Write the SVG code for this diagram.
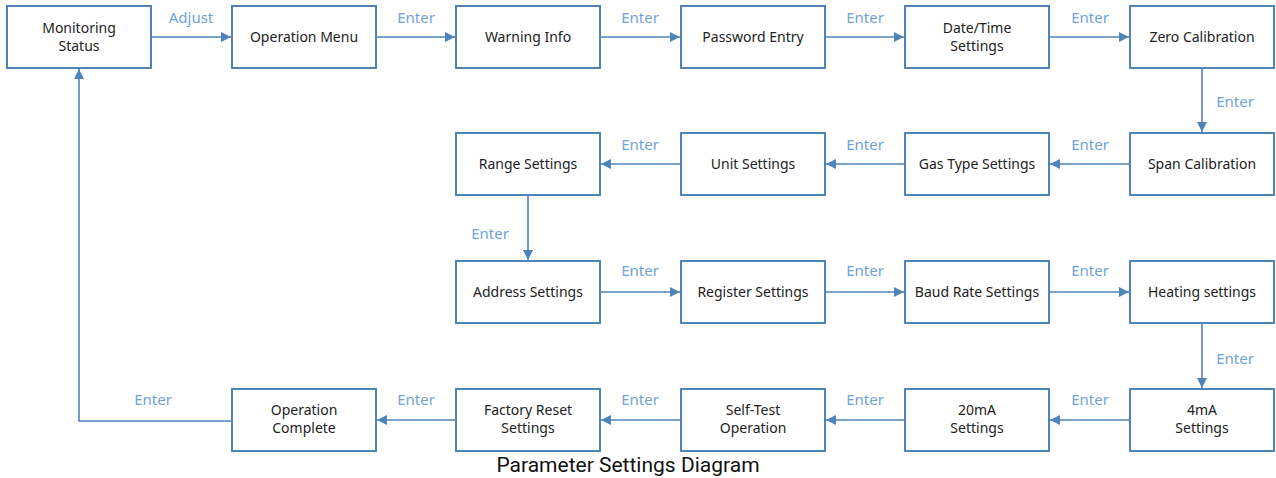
<svg xmlns="http://www.w3.org/2000/svg" width="1276" height="478" viewBox="0 0 1276 478">
<style>
.box{fill:#fff;stroke:#4f84b9;stroke-width:2}
.t{font-family:"Noto Sans","Open Sans",sans-serif;font-size:14px;fill:#222;text-anchor:middle}
.l{font-family:"Noto Sans","Open Sans",sans-serif;font-size:15px;fill:#6fa3d6;text-anchor:middle}
.c{fill:none;stroke:#4f84b9;stroke-width:1.6}
.title{font-family:Roboto,"Noto Sans",sans-serif;font-size:21px;fill:#111;text-anchor:middle}
</style>
<defs>
<marker id="a" viewBox="0 0 10 10" refX="10" refY="5" markerWidth="10" markerHeight="10" markerUnits="userSpaceOnUse" orient="auto"><path d="M0,0L10,5L0,10z" fill="#4f84b9"/></marker>
</defs>
<rect width="1276" height="478" fill="#fff"/>
<g id="connectors">
<path class="c" marker-end="url(#a)" d="M151,37H231"/>
<path class="c" marker-end="url(#a)" d="M376,37H455"/>
<path class="c" marker-end="url(#a)" d="M600,37H680"/>
<path class="c" marker-end="url(#a)" d="M825,37H904"/>
<path class="c" marker-end="url(#a)" d="M1049,37H1129"/>
<path class="c" marker-end="url(#a)" d="M1202,68V132"/>
<path class="c" marker-end="url(#a)" d="M1130,164H1050"/>
<path class="c" marker-end="url(#a)" d="M905,164H826"/>
<path class="c" marker-end="url(#a)" d="M681,164H601"/>
<path class="c" marker-end="url(#a)" d="M528,195V260"/>
<path class="c" marker-end="url(#a)" d="M600,292H680"/>
<path class="c" marker-end="url(#a)" d="M825,292H904"/>
<path class="c" marker-end="url(#a)" d="M1049,292H1129"/>
<path class="c" marker-end="url(#a)" d="M1202,323V388"/>
<path class="c" marker-end="url(#a)" d="M1130,420H1050"/>
<path class="c" marker-end="url(#a)" d="M905,420H826"/>
<path class="c" marker-end="url(#a)" d="M681,420H601"/>
<path class="c" marker-end="url(#a)" d="M456,420H377"/>
<path class="c" marker-end="url(#a)" d="M232,421H79V69"/>
<text class="l" x="191" y="23">Adjust</text>
<text class="l" x="416" y="23">Enter</text>
<text class="l" x="640" y="23">Enter</text>
<text class="l" x="865" y="23">Enter</text>
<text class="l" x="1090" y="23">Enter</text>
<text class="l" x="1235" y="107">Enter</text>
<text class="l" x="1090" y="150">Enter</text>
<text class="l" x="865" y="150">Enter</text>
<text class="l" x="640" y="150">Enter</text>
<text class="l" x="490" y="239">Enter</text>
<text class="l" x="640" y="276">Enter</text>
<text class="l" x="865" y="276">Enter</text>
<text class="l" x="1090" y="276">Enter</text>
<text class="l" x="1235" y="364">Enter</text>
<text class="l" x="1090" y="405">Enter</text>
<text class="l" x="865" y="405">Enter</text>
<text class="l" x="640" y="405">Enter</text>
<text class="l" x="416" y="405">Enter</text>
<text class="l" x="153" y="405">Enter</text>
</g>
<g id="n1"><rect class="box" x="7" y="6" width="144" height="62"/><text class="t" x="79" y="33">Monitoring</text><text class="t" x="79" y="51">Status</text></g>
<g id="n2"><rect class="box" x="232" y="6" width="144" height="62"/><text class="t" x="304" y="42">Operation Menu</text></g>
<g id="n3"><rect class="box" x="456" y="6" width="144" height="62"/><text class="t" x="528" y="42">Warning Info</text></g>
<g id="n4"><rect class="box" x="681" y="6" width="144" height="62"/><text class="t" x="753" y="42">Password Entry</text></g>
<g id="n5"><rect class="box" x="905" y="6" width="144" height="62"/><text class="t" x="977" y="33">Date/Time</text><text class="t" x="977" y="51">Settings</text></g>
<g id="n6"><rect class="box" x="1130" y="6" width="144" height="62"/><text class="t" x="1202" y="42">Zero Calibration</text></g>
<g id="n7"><rect class="box" x="1130" y="133" width="144" height="62"/><text class="t" x="1202" y="169">Span Calibration</text></g>
<g id="n8"><rect class="box" x="905" y="133" width="144" height="62"/><text class="t" x="977" y="169">Gas Type Settings</text></g>
<g id="n9"><rect class="box" x="681" y="133" width="144" height="62"/><text class="t" x="753" y="169">Unit Settings</text></g>
<g id="n10"><rect class="box" x="456" y="133" width="144" height="62"/><text class="t" x="528" y="169">Range Settings</text></g>
<g id="n11"><rect class="box" x="456" y="261" width="144" height="62"/><text class="t" x="528" y="297">Address Settings</text></g>
<g id="n12"><rect class="box" x="681" y="261" width="144" height="62"/><text class="t" x="753" y="297">Register Settings</text></g>
<g id="n13"><rect class="box" x="905" y="261" width="144" height="62"/><text class="t" x="977" y="297">Baud Rate Settings</text></g>
<g id="n14"><rect class="box" x="1130" y="261" width="144" height="62"/><text class="t" x="1202" y="297">Heating settings</text></g>
<g id="n15"><rect class="box" x="1130" y="389" width="144" height="62"/><text class="t" x="1202" y="415">4mA</text><text class="t" x="1202" y="433">Settings</text></g>
<g id="n16"><rect class="box" x="905" y="389" width="144" height="62"/><text class="t" x="977" y="415">20mA</text><text class="t" x="977" y="433">Settings</text></g>
<g id="n17"><rect class="box" x="681" y="389" width="144" height="62"/><text class="t" x="753" y="415">Self-Test</text><text class="t" x="753" y="433">Operation</text></g>
<g id="n18"><rect class="box" x="456" y="389" width="144" height="62"/><text class="t" x="528" y="415">Factory Reset</text><text class="t" x="528" y="433">Settings</text></g>
<g id="n19"><rect class="box" x="232" y="389" width="144" height="62"/><text class="t" x="304" y="415">Operation</text><text class="t" x="304" y="433">Complete</text></g>
<text class="title" x="628" y="472">Parameter Settings Diagram</text>
</svg>
